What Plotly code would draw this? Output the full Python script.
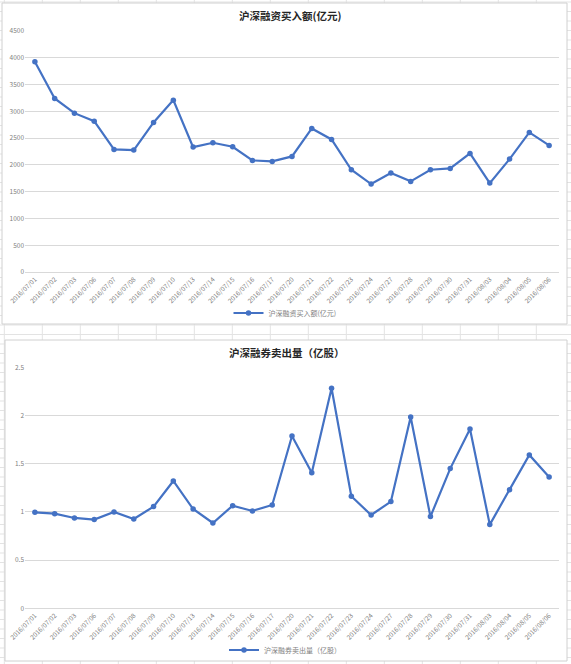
import plotly.graph_objects as go
from plotly.subplots import make_subplots

W, H = 571, 664
FONT = "Noto Sans CJK SC"

dates = [
    "2016/07/01", "2016/07/02", "2016/07/03", "2016/07/06", "2016/07/07",
    "2016/07/08", "2016/07/09", "2016/07/10", "2016/07/13", "2016/07/14",
    "2016/07/15", "2016/07/16", "2016/07/17", "2016/07/20", "2016/07/21",
    "2016/07/22", "2016/07/23", "2016/07/24", "2016/07/27", "2016/07/28",
    "2016/07/29", "2016/07/30", "2016/07/31", "2016/08/03", "2016/08/04",
    "2016/08/05", "2016/08/06",
]

# 融资买入额（亿元）
buy_amount = [
    3924, 3240, 2966, 2817, 2289, 2276, 2792, 3209, 2332, 2413,
    2338, 2083, 2065, 2158, 2680, 2475, 1909, 1642, 1847, 1692,
    1909, 1934, 2214, 1660, 2108, 2606, 2363,
]

# 融券卖出量（亿股）
sell_volume = [
    0.996, 0.982, 0.937, 0.920, 0.999, 0.927, 1.055, 1.321, 1.030, 0.885,
    1.065, 1.010, 1.072, 1.788, 1.407, 2.282, 1.162, 0.968, 1.107, 1.985,
    0.951, 1.449, 1.860, 0.868, 1.231, 1.591, 1.362,
]

title_top = "沪深融资买入额(亿元)"
title_bottom = "沪深融券卖出量（亿股）"

BLUE = "#4472C4"


def px(x):
    return x / W


def py(y):
    return 1 - y / H


fig = make_subplots(rows=2, cols=1)

fig.add_trace(
    go.Scatter(
        name=title_top,
        x=dates,
        y=buy_amount,
        mode="lines+markers",
        line=dict(color=BLUE, width=2.2),
        marker=dict(color=BLUE, size=5.5),
        legend="legend",
        showlegend=True,
    ),
    row=1,
    col=1,
)
fig.add_trace(
    go.Scatter(
        name=title_bottom,
        x=dates,
        y=sell_volume,
        mode="lines+markers",
        line=dict(color=BLUE, width=2.2),
        marker=dict(color=BLUE, size=5.5),
        legend="legend2",
        showlegend=True,
    ),
    row=2,
    col=1,
)

# spreadsheet cells behind the charts
shapes = []
x = 4.3
while x < W:
    shapes.append(dict(type="line", xref="paper", yref="paper", x0=px(x), x1=px(x),
                       y0=0, y1=1, line=dict(color="#e3e3e3", width=1), layer="below"))
    x += 38
y = 325 % 9.5
while y < H:
    shapes.append(dict(type="line", xref="paper", yref="paper", x0=0, x1=1,
                       y0=py(y), y1=py(y), line=dict(color="#e3e3e3", width=1), layer="below"))
    y += 9.5
# chart boxes
for x0, y0, x1, y1 in [(2, 3, 567, 324), (5, 340, 567, 661)]:
    shapes.append(dict(type="rect", xref="paper", yref="paper",
                       x0=px(x0), x1=px(x1), y0=py(y1), y1=py(y0),
                       fillcolor="white", line=dict(color="#d0d0d0", width=1), layer="below"))

fig.update_layout(
    width=W,
    height=H,
    margin=dict(l=0, r=0, t=0, b=0, autoexpand=False),
    paper_bgcolor="white",
    plot_bgcolor="rgba(0,0,0,0)",
    font=dict(family=FONT, color="#595959"),
    showlegend=True,
    shapes=shapes,
    annotations=[
        dict(text="<b>" + title_top + "</b>", x=px(290), y=py(16), xref="paper", yref="paper",
             xanchor="center", yanchor="middle", showarrow=False,
             font=dict(size=10.5, color="#262626", family=FONT)),
        dict(text="<b>" + title_bottom + "</b>", x=px(287), y=py(352), xref="paper", yref="paper",
             xanchor="center", yanchor="middle", showarrow=False,
             font=dict(size=10.5, color="#262626", family=FONT)),
    ],
    legend=dict(x=px(285), y=py(313), xanchor="center", yanchor="middle",
                orientation="h", bgcolor="rgba(0,0,0,0)", itemwidth=30,
                font=dict(size=7, color="#7f7f7f", family=FONT)),
    legend2=dict(x=px(285), y=py(650), xanchor="center", yanchor="middle",
                 orientation="h", bgcolor="rgba(0,0,0,0)", itemwidth=30,
                 font=dict(size=7, color="#7f7f7f", family=FONT)),
)

fig.update_xaxes(
    type="category",
    range=[-0.5, len(dates) - 0.5],
    tickangle=-45,
    tickfont=dict(size=6.5, color="#808080"),
    showgrid=False,
    showline=True,
    linecolor="#d9d9d9",
    ticks="",
    zeroline=False,
    automargin=False,
    domain=[px(25), px(559)],
)

fig.update_yaxes(
    range=[0, 4500], dtick=500, domain=[py(272), py(31)],
    tickfont=dict(size=6.5, color="#808080"), gridcolor="#d9d9d9", gridwidth=1,
    zeroline=False, showline=False, ticks="", automargin=False, row=1, col=1,
)
fig.update_yaxes(
    range=[0, 2.5], dtick=0.5, domain=[py(608.3), py(367.3)],
    tickfont=dict(size=6.5, color="#808080"), gridcolor="#d9d9d9", gridwidth=1,
    zeroline=False, showline=False, ticks="", automargin=False, row=2, col=1,
)

fig.write_html(
    "out.html",
    config={"displayModeBar": False},
    post_script="document.body.style.margin='0';document.body.style.overflow='hidden';",
)
